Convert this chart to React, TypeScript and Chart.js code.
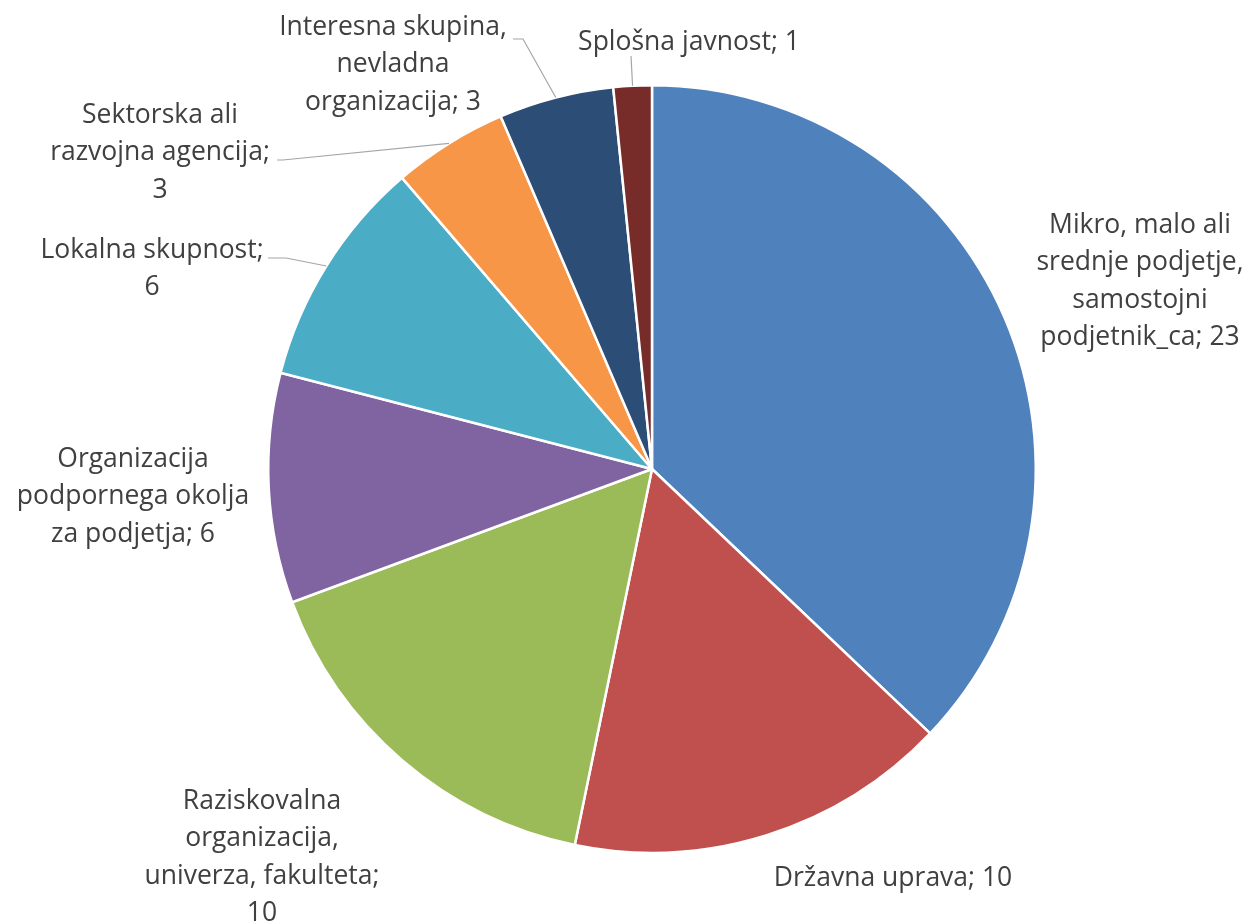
import React, { useEffect, useRef } from "react";
import { Chart, registerables } from "chart.js";

Chart.register(...registerables);

const categories = [
  "Mikro, malo ali srednje podjetje, samostojni podjetnik_ca",
  "Državna uprava",
  "Raziskovalna organizacija, univerza, fakulteta",
  "Organizacija podpornega okolja za podjetja",
  "Lokalna skupnost",
  "Sektorska ali razvojna agencija",
  "Interesna skupina, nevladna organizacija",
  "Splošna javnost",
];
const values = [23, 10, 10, 6, 6, 3, 3, 1];
const labelLines = [
  ["Mikro, malo ali", "srednje podjetje,", "samostojni", "podjetnik_ca; 23"],
  ["Državna uprava; 10"],
  ["Raziskovalna", "organizacija,", "univerza, fakulteta;", "10"],
  ["Organizacija", "podpornega okolja", "za podjetja; 6"],
  ["Lokalna skupnost;", "6"],
  ["Sektorska ali", "razvojna agencija;", "3"],
  ["Interesna skupina,", "nevladna", "organizacija; 3"],
  ["Splošna javnost; 1"],
];
const colors = ["#4F81BD", "#C0504D", "#9BBB59", "#8064A2", "#4BACC6", "#F79646", "#2C4D75", "#772C2A"];

// label layout: center x, first line center y, leader start (or null), elbow length
const labelLayout = [
  { x: 1140, y: 225, leader: null as null | { x: number; y: number; elbow: number } },
  { x: 893, y: 878, leader: null },
  { x: 262, y: 801, leader: null },
  { x: 133, y: 459, leader: null },
  { x: 152, y: 250, leader: { x: 268, y: 258, elbow: 18 } },
  { x: 160, y: 115, leader: { x: 277, y: 160, elbow: 6 } },
  { x: 393, y: 27, leader: { x: 513, y: 39, elbow: 10 } },
  { x: 689, y: 42, leader: { x: 631, y: 56, elbow: 0 } },
];
const LINE_H = 37.5;

const labelPlugin = {
  id: "pieLabels",
  afterDatasetsDraw(chart: any) {
    const ctx = chart.ctx;
    const meta = chart.getDatasetMeta(0);
    ctx.save();
    meta.data.forEach((arc: any, i: number) => {
      const p = arc.getProps(["x", "y", "startAngle", "endAngle", "outerRadius"], true);
      const mid = (p.startAngle + p.endAngle) / 2;
      const lay = labelLayout[i];
      if (lay.leader) {
        const ex = p.x + Math.cos(mid) * p.outerRadius;
        const ey = p.y + Math.sin(mid) * p.outerRadius;
        ctx.strokeStyle = "#A6A6A6";
        ctx.lineWidth = 1.2;
        ctx.beginPath();
        ctx.moveTo(lay.leader.x, lay.leader.y);
        if (lay.leader.elbow) ctx.lineTo(lay.leader.x + lay.leader.elbow, lay.leader.y);
        ctx.lineTo(ex, ey);
        ctx.stroke();
      }
      ctx.fillStyle = "#404040";
      ctx.font = "26.5px 'Open Sans', sans-serif";
      ctx.textAlign = "center";
      ctx.textBaseline = "middle";
      labelLines[i].forEach((t, j) => {
        ctx.fillText(t, lay.x, lay.y + j * LINE_H);
      });
    });
    ctx.restore();
  },
};

export default function App() {
  const ref = useRef<HTMLCanvasElement>(null);
  useEffect(() => {
    if (!ref.current) return;
    const chart = new Chart(ref.current, {
      type: "pie",
      data: {
        labels: categories,
        datasets: [
          {
            data: values,
            backgroundColor: colors,
            borderColor: "#FFFFFF",
            borderWidth: 2.5,
          },
        ],
      },
      options: {
        animation: false,
        responsive: false,
        layout: { padding: { top: 84, bottom: 68, left: 267, right: 212 } },
        plugins: { legend: { display: false }, tooltip: { enabled: false } },
      },
      plugins: [labelPlugin],
    });
    return () => chart.destroy();
  }, []);
  return (
    <div style={{ position: "fixed", left: 0, top: 0, width: 1249, height: 922, background: "#fff" }}>
      <canvas ref={ref} width={1249} height={922} style={{ width: 1249, height: 922 }} />
    </div>
  );
}
